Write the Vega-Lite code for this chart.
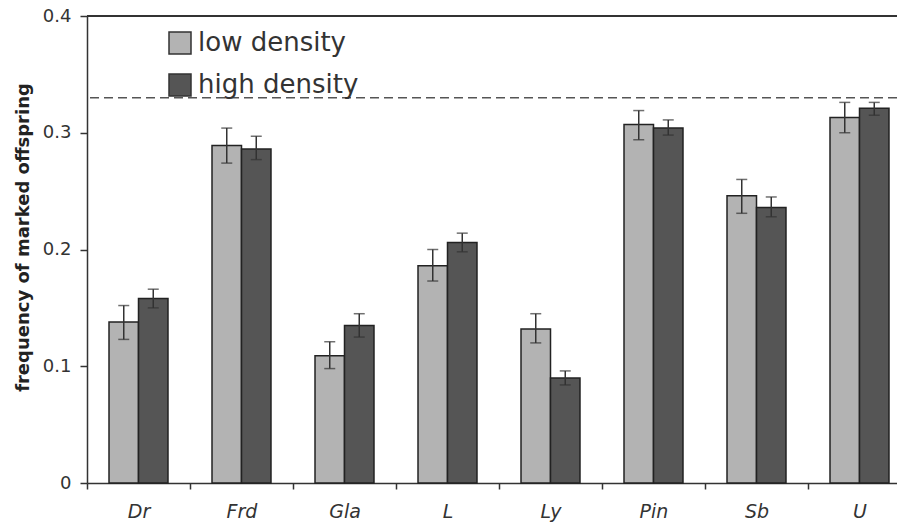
{
  "$schema": "https://vega.github.io/schema/vega-lite/v6.json",
  "autosize": {"type": "none"},
  "padding": {"left": 87, "top": 16, "right": 0, "bottom": 39},
  "width": 810,
  "height": 467,
  "config": {
    "font": "DejaVu Sans",
    "view": {"stroke": null},
    "axis": {"domainColor": "#333", "domainWidth": 1.5, "tickColor": "#333", "tickWidth": 1.5, "tickSize": 6, "grid": false, "labelColor": "#333"}
  },
  "data": {
    "values": [
      {"site": "Dr", "density": "low density", "value": 0.138, "lo": 0.123, "hi": 0.152},
      {"site": "Dr", "density": "high density", "value": 0.158, "lo": 0.150, "hi": 0.166},
      {"site": "Frd", "density": "low density", "value": 0.289, "lo": 0.274, "hi": 0.304},
      {"site": "Frd", "density": "high density", "value": 0.286, "lo": 0.277, "hi": 0.297},
      {"site": "Gla", "density": "low density", "value": 0.109, "lo": 0.098, "hi": 0.121},
      {"site": "Gla", "density": "high density", "value": 0.135, "lo": 0.125, "hi": 0.145},
      {"site": "L", "density": "low density", "value": 0.186, "lo": 0.173, "hi": 0.200},
      {"site": "L", "density": "high density", "value": 0.206, "lo": 0.198, "hi": 0.214},
      {"site": "Ly", "density": "low density", "value": 0.132, "lo": 0.120, "hi": 0.145},
      {"site": "Ly", "density": "high density", "value": 0.090, "lo": 0.084, "hi": 0.096},
      {"site": "Pin", "density": "low density", "value": 0.307, "lo": 0.294, "hi": 0.319},
      {"site": "Pin", "density": "high density", "value": 0.304, "lo": 0.298, "hi": 0.311},
      {"site": "Sb", "density": "low density", "value": 0.246, "lo": 0.231, "hi": 0.260},
      {"site": "Sb", "density": "high density", "value": 0.236, "lo": 0.228, "hi": 0.245},
      {"site": "U", "density": "low density", "value": 0.313, "lo": 0.300, "hi": 0.326},
      {"site": "U", "density": "high density", "value": 0.321, "lo": 0.315, "hi": 0.326}
    ]
  },
  "encoding": {
    "x": {
      "field": "site", "type": "nominal", "sort": null,
      "scale": {"range": [0, 824], "paddingInner": 0, "paddingOuter": 0},
      "axis": {"title": null, "tickBand": "extent", "labelAngle": 0, "labelFontStyle": "italic", "labelFontSize": 19, "labelPadding": 13}
    },
    "xOffset": {
      "field": "density", "type": "nominal",
      "scale": {"domain": ["low density", "high density"], "paddingInner": 0, "paddingOuter": 0.746}
    }
  },
  "layer": [
    {
      "mark": {"type": "bar", "stroke": "#222", "strokeWidth": 1.5},
      "encoding": {
        "y": {
          "field": "value", "type": "quantitative",
          "scale": {"domain": [0, 0.4], "nice": false},
          "axis": {
            "title": "frequency of marked offspring", "titleFontSize": 18, "titleFontWeight": "bold", "titleColor": "#222",
            "titleX": -64, "titleY": 221, "titleAngle": -90, "titleBaseline": "middle", "titleAlign": "center",
            "values": [0, 0.1, 0.2, 0.3, 0.4], "labelFontSize": 18, "labelPadding": 9, "tickSize": 7,
            "labelExpr": "datum.value == 0 ? '0' : format(datum.value, '.1f')"
          }
        },
        "fill": {
          "field": "density", "type": "nominal",
          "scale": {"domain": ["low density", "high density"], "range": ["#b3b3b3", "#555555"]},
          "legend": {
            "orient": "none", "legendX": 80, "legendY": 14, "title": null, "symbolType": "square", "symbolSize": 484,
            "labelFontSize": 26, "labelColor": "#333", "labelLimit": 400, "rowPadding": 14, "labelOffset": 5,
            "symbolStrokeColor": "#333", "symbolStrokeWidth": 1.5
          }
        }
      }
    },
    {
      "mark": {"type": "rule", "stroke": "#333", "strokeWidth": 1.5},
      "encoding": {"y": {"field": "lo", "type": "quantitative"}, "y2": {"field": "hi"}}
    },
    {
      "mark": {"type": "tick", "color": "#333", "size": 11, "thickness": 1.5},
      "encoding": {"y": {"field": "lo", "type": "quantitative"}}
    },
    {
      "mark": {"type": "tick", "color": "#333", "size": 11, "thickness": 1.5},
      "encoding": {"y": {"field": "hi", "type": "quantitative"}}
    },
    {
      "data": {"values": [{"ref": 0.33}]},
      "mark": {"type": "rule", "stroke": "#555", "strokeWidth": 1.5, "strokeDash": [9, 5]},
      "encoding": {"x": null, "xOffset": null, "y": {"field": "ref", "type": "quantitative"}}
    },
    {
      "data": {"values": [{"top": 0.4}]},
      "mark": {"type": "rule", "stroke": "#333", "strokeWidth": 2},
      "encoding": {"x": null, "xOffset": null, "y": {"field": "top", "type": "quantitative"}}
    }
  ]
}
